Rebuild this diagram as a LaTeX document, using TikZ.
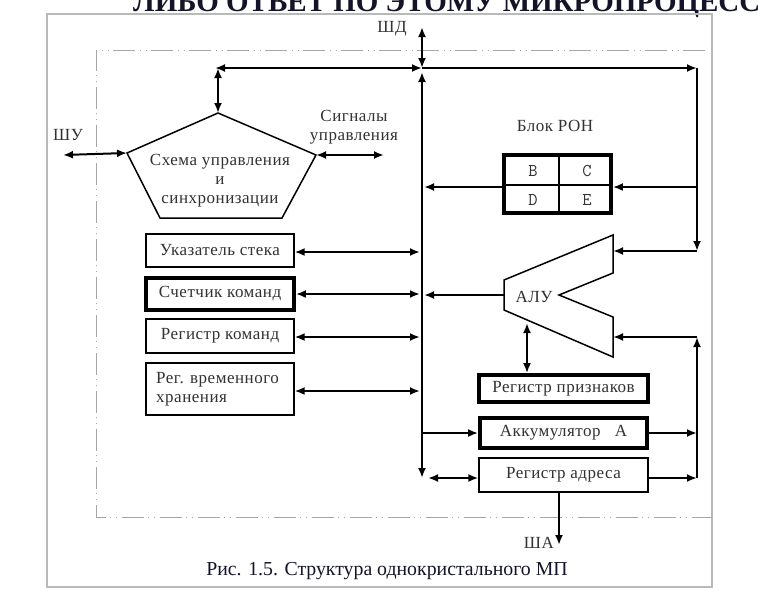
\documentclass[tikz,border=0pt]{standalone}
\usepackage{fontspec}
\setmainfont{Liberation Serif}
\newfontfamily\dfont[LetterSpace=3]{Liberation Serif}
\usetikzlibrary{arrows.meta}
\definecolor{txt}{RGB}{50,50,50}
\definecolor{cap}{RGB}{20,20,40}
\begin{document}
\begin{tikzpicture}[x=1pt,y=-1pt,
  tp/.tip={Latex[length=10pt,width=8pt]},
  bus/.style={line width=2.8pt},
  link/.style={line width=2pt},
  lbl/.style={font=\dfont\fontsize{17}{19}\selectfont, text=txt, inner sep=0pt},
  mono/.style={font=\ttfamily\fontsize{18}{20}\selectfont, text=txt, inner sep=0pt},
  thinbox/.style={draw, line width=1.3pt, inner sep=0pt, font=\dfont\fontsize{17}{19}\selectfont, text=txt},
  thickbox/.style={draw, line width=3.8pt, inner sep=0pt, font=\dfont\fontsize{17}{19}\selectfont, text=txt},
  dotframe/.style={gray!70, line width=0.9pt, dash pattern=on 22pt off 4pt on 1pt off 5pt on 1pt off 5pt}
]
\useasboundingbox (0,0) rectangle (758,590);
\fill[white] (0,0) rectangle (758,590);
% heading (clipped at the top edge)
\begin{scope}
\clip (0,0) rectangle (758,590);
\node[anchor=base west, inner sep=0pt, text=cap, font=\bfseries\fontsize{29}{31}\selectfont] (head) at (133,11) {ЛИБО ОТВЕТ ПО ЭТОМУ МИКРОПРОЦЕСС};
\end{scope}
% outer frame
\draw[gray!55, line width=1.4pt] (47,14) rectangle (712,587);
% dotted frame
\draw[dotframe] (705,50) -- (96,50) -- (96,517) -- (712,517);

% pentagon
\coordinate (pA) at (218,113);
\coordinate (pL) at (127,153);
\coordinate (pR) at (316,155);
\coordinate (pBL) at (160,218);
\coordinate (pBR) at (282,218);
\draw[line width=1.5pt] (pA) -- (pR) -- (pBR) -- (pBL) -- (pL) -- cycle;
\node[lbl, align=center] (ctl) at (220,181) {Схема управления\\и\\синхронизации};

% left boxes
\node[thinbox, minimum width=148pt, minimum height=33pt] (sp) at (220,250.5) {Указатель стека};
\node[thickbox, minimum width=148pt, minimum height=32pt] (pc) at (220,294) {Счетчик команд};
\node[thinbox, minimum width=148pt, minimum height=34pt] (ir) at (220,336) {Регистр команд};
\node[thinbox, minimum width=148pt, minimum height=52pt] (tmp) at (220,389) {};
\node[lbl, anchor=west, align=left] (tmpt) at (156,389) {Рег. временного\\хранения};

% RON block
\node[lbl] (ronl) at (555,126) {Блок РОН};
\node[thickbox, minimum width=107pt, minimum height=58pt] (ron) at (557.5,184) {};
\draw[line width=1.3pt] (559,155) -- (559,213);
\draw[line width=1.3pt] (504,185) -- (611,185);
\node[mono] (rB) at (533,171) {B};
\node[mono] (rC) at (587,171) {C};
\node[mono] (rD) at (533,200) {D};
\node[mono] (rE) at (587,200) {E};

% ALU
\coordinate (a1) at (613,235);
\coordinate (a2) at (613,273);
\coordinate (a3) at (559,295);
\coordinate (a4) at (613,317);
\coordinate (a5) at (613,357);
\coordinate (a6) at (504,310);
\coordinate (a7) at (504,280);
\draw[line width=1.5pt] (a1) -- (a2) -- (a3) -- (a4) -- (a5) -- (a6) -- (a7) -- cycle;
\node[lbl] (alu) at (534,297) {АЛУ};

% right boxes
\node[thickbox, minimum width=169pt, minimum height=27pt] (fl) at (563.5,388.5) {Регистр признаков};
\node[thickbox, minimum width=167pt, minimum height=30pt] (acc) at (563.5,433) {Аккумулятор\ \ \ А};
\node[thinbox, minimum width=169pt, minimum height=34pt] (ar) at (563.5,475) {Регистр адреса};

% bus coordinates
\coordinate (j) at (422,68);
\coordinate (shdtop) at (422,27);
\coordinate (hl) at (215,68);
\coordinate (pAtop) at (218,68);
\coordinate (hr) at (697,68);
\coordinate (vtop) at (422,72);
\coordinate (vbot) at (422,478);
\coordinate (rALU1) at (697,251);
\coordinate (rRON) at (697,187);
\coordinate (rALU2) at (697,337);
\coordinate (rAcc) at (697,433);
\coordinate (rAr) at (697,478);
\coordinate (shaend) at (559,545);
\coordinate (shuend) at (63,155);
\coordinate (sigend) at (384,155);
\coordinate (bSp) at (420,252);
\coordinate (bPc) at (420,294);
\coordinate (bIr) at (420,337);
\coordinate (bTmp) at (420,391);
\coordinate (bRon) at (424,187);
\coordinate (bAlu) at (424,295);
\coordinate (bAcc) at (422,433);
\coordinate (bAr) at (428,478);
\coordinate (fAlu) at (527,323);

% labels
\node[lbl] (shd) at (392,29) {ШД};
\node[lbl] (shu) at (68,135) {ШУ};
\node[lbl, align=center] (sig) at (354,127) {Сигналы\\управления};
\node[lbl, anchor=east] (sha) at (554,543) {ША};
\node[inner sep=0pt, text=cap, font=\fontsize{19.8}{22}\selectfont] (capt) at (387,571) {Рис. 1.5. Структура однокристального МП};

% buses
\draw[bus, tp-tp] (j) -- (shdtop);
\draw[bus, tp-tp] (hl) -- (j);
\draw[bus, -tp] (j) -- (hr);
\draw[bus, tp-tp] (vtop) -- (vbot);
\draw[link, tp-tp] (pAtop) -- (pA);
\draw[link, tp-tp] (shuend) -- (pL);
\draw[link, tp-tp] (pR) -- (sigend);

% left box links
\draw[link, tp-tp] (sp.east |- bSp) -- (bSp);
\draw[link, tp-tp] (pc.east |- bPc) -- (bPc);
\draw[link, tp-tp] (ir.east |- bIr) -- (bIr);
\draw[link, tp-tp] (tmp.east |- bTmp) -- (bTmp);

% RON links
\draw[bus, -tp] (ron.west |- bRon) -- (bRon);
\draw[bus, -tp] (hr) -- (rALU1);
\draw[bus, -tp] (rRON) -- (ron.east |- rRON);
\draw[bus, -tp] (rALU1) -- (a1 |- rALU1);

% ALU links
\draw[bus, -tp] (a7 |- bAlu) -- (bAlu);
\draw[bus, tp-tp] (fAlu) -- (fl.north -| fAlu);
\draw[bus, -tp] (rAr) -- (rALU2);
\draw[bus, -tp] (rALU2) -- (a5 |- rALU2);

% lower right links
\draw[bus, -tp] (acc.east) -- (rAcc);
\draw[bus, -tp] (ar.east |- rAr) -- (rAr);
\draw[bus, -tp] (bAcc) -- (acc.west);
\draw[bus, tp-tp] (bAr) -- (ar.west |- bAr);
\draw[bus, -tp] (ar.south -| shaend) -- (shaend);
\end{tikzpicture}
\end{document}
